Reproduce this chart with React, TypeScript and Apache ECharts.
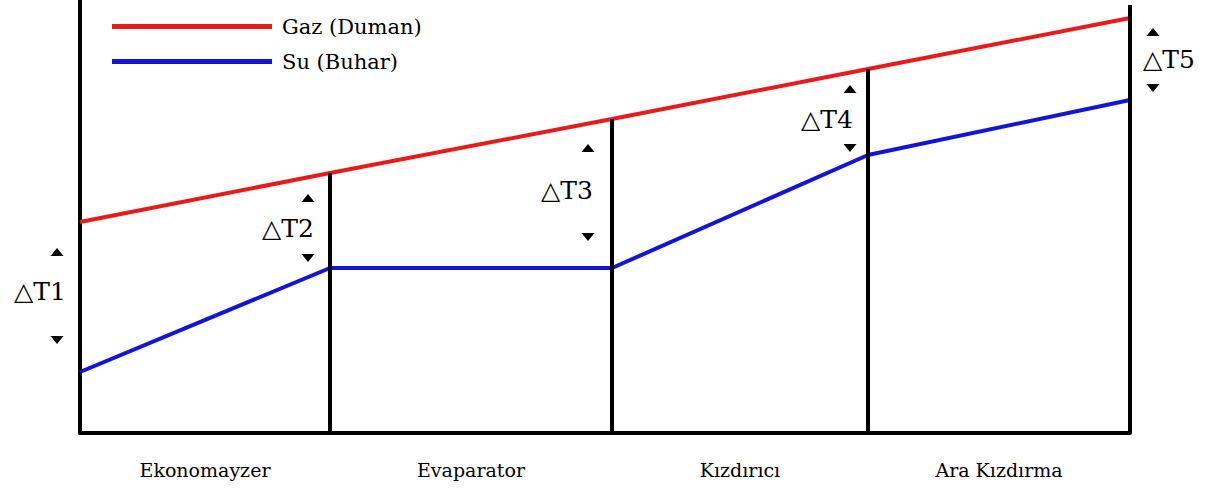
import React, { useEffect, useRef } from "react";
import * as echarts from "echarts";

// x positions of section boundaries (data units)
const boundaries = [0, 250, 532, 788, 1050];
const gasTemps = [211, 260, 314, 364, 415];
const waterTemps = [61, 165, 165, 278, 333];
const dividerTops = [260, 314, 364, 428];
const categories = ["Ekonomayzer", "Evaparator", "Kızdırıcı", "Ara Kızdırma"];
const categoryCenters = [125, 391, 660, 919];
const categoryLabelY = -37;
const deltaLabels = ["△T1", "△T2", "△T3", "△T4", "△T5"];
const deltaLabelPos = [[-40, 142], [208, 205], [487, 243], [747, 314], [1089, 374]];
const upArrows = [[-23, 181], [228, 235], [508, 285], [770, 344], [1073, 401]];
const downArrows = [[-23, 93], [228, 175], [508, 196], [770, 285], [1073, 345]];

const SERIF = "DejaVu Serif";

export default function App() {
  const ref = useRef<HTMLDivElement>(null);
  useEffect(() => {
    const chart = echarts.init(ref.current!, null, { renderer: "svg" });
    const textSeries = (data: any[], fontSize: number) => ({
      type: "scatter",
      clip: false,
      silent: true,
      symbolSize: 0,
      itemStyle: { opacity: 1 },
      data,
      label: {
        show: true,
        position: "inside",
        formatter: "{b}",
        fontFamily: SERIF,
        fontSize,
        color: "#000",
        opacity: 1,
      },
    });
    const arrowSeries = (data: number[][], rotate: number) => ({
      type: "scatter",
      clip: false,
      silent: true,
      symbol: "triangle",
      symbolRotate: rotate,
      symbolSize: [13, 8],
      itemStyle: { color: "#000", opacity: 1 },
      data,
    });
    chart.setOption({
      animation: false,
      backgroundColor: "#ffffff",
      textStyle: { fontFamily: SERIF },
      grid: { left: 80, right: 83, top: 0, bottom: 56 },
      legend: {
        data: ["Gaz (Duman)", "Su (Buhar)"],
        orient: "vertical",
        left: 112,
        top: 16,
        padding: 0,
        icon: "rect",
        itemWidth: 160,
        itemHeight: 5,
        itemGap: 14,
        formatter: "{s|{name}}",
        textStyle: {
          fontFamily: SERIF,
          fontSize: 21,
          color: "#000",
          rich: { s: { fontFamily: SERIF, fontSize: 21, color: "#000", padding: [0, 0, 0, 5] } },
        },
      },
      xAxis: {
        type: "value",
        min: 0,
        max: 1050,
        axisLine: { show: true, lineStyle: { color: "#000", width: 4 } },
        axisTick: { show: false },
        splitLine: { show: false },
        axisLabel: { show: false },
      },
      yAxis: {
        type: "value",
        min: 0,
        max: 433,
        axisLine: { show: true, lineStyle: { color: "#000", width: 4 } },
        axisTick: { show: false },
        axisLabel: { show: false },
        splitLine: { show: false },
      },
      series: [
        {
          name: "Gaz (Duman)",
          type: "line",
          data: boundaries.map((x, i) => [x, gasTemps[i]]),
          showSymbol: false,
          symbol: "none",
          itemStyle: { color: "#ea1a1a" },
          lineStyle: { color: "#ea1a1a", width: 4 },
          z: 3,
          markLine: {
            silent: true,
            symbol: ["none", "none"],
            label: { show: false },
            lineStyle: { color: "#000", width: 4, type: "solid" },
            data: boundaries.slice(1).map((x, i) => [
              { coord: [x, 0] },
              { coord: [x, dividerTops[i]] },
            ]),
          },
        },
        {
          name: "Su (Buhar)",
          type: "line",
          data: boundaries.map((x, i) => [x, waterTemps[i]]),
          showSymbol: false,
          symbol: "none",
          itemStyle: { color: "#1414d8" },
          lineStyle: { color: "#1414d8", width: 4 },
          z: 3,
        },
        textSeries(
          categories.map((n, i) => ({ name: n, value: [categoryCenters[i], categoryLabelY] })),
          19
        ),
        textSeries(
          deltaLabels.map((n, i) => ({ name: n, value: deltaLabelPos[i] })),
          25
        ),
        arrowSeries(upArrows, 0),
        arrowSeries(downArrows, 180),
      ],
    });
    return () => chart.dispose();
  }, []);
  return (
    <div
      ref={ref}
      style={{ position: "absolute", left: 0, top: 0, width: 1213, height: 489 }}
    />
  );
}
